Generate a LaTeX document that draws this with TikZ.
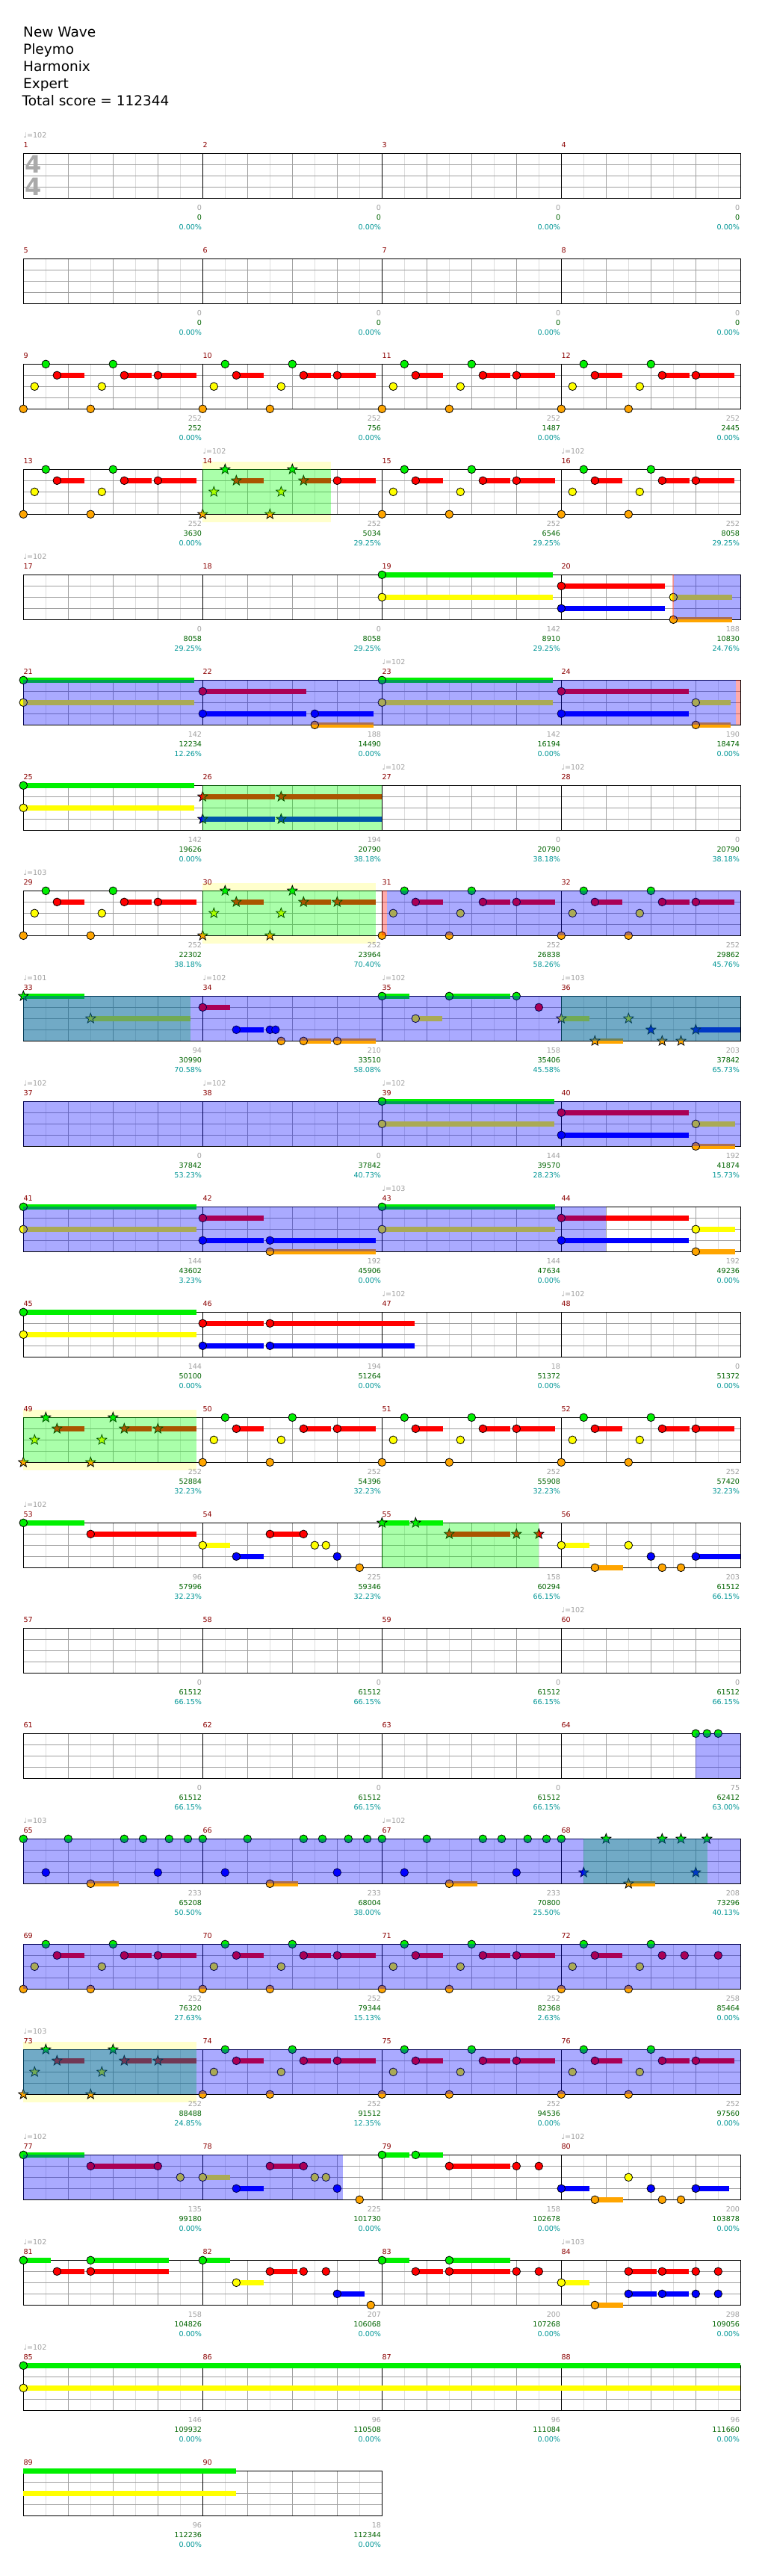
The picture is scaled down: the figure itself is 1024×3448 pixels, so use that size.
\documentclass[tikz,border=0pt]{standalone}
\usepackage{fontspec}
\setmainfont{DejaVu Sans}
\usepackage{tikz}

\definecolor{lane0}{RGB}{0,240,0}
\definecolor{lane1}{RGB}{255,0,0}
\definecolor{lane2}{RGB}{255,255,0}
\definecolor{lane3}{RGB}{0,0,255}
\definecolor{lane4}{RGB}{255,165,0}
\definecolor{numred}{RGB}{139,0,0}
\definecolor{ptsgray}{RGB}{160,160,160}
\definecolor{totgreen}{RGB}{0,100,0}
\definecolor{pctcyan}{RGB}{0,150,150}
\definecolor{sigray}{RGB}{170,170,170}
\definecolor{gridlight}{RGB}{221,221,221}
\definecolor{gridgray}{RGB}{160,160,160}
\definecolor{bandyellow}{RGB}{255,255,204}

\newcommand{\chartfont}{\fontsize{9.6}{11}\selectfont}
\newcommand{\headfont}{\fontsize{18.5}{23}\selectfont}

% one row of four (or two) bars
\newcommand{\staffrow}[2]{%
  \pgfmathsetmacro{\ty}{205.3+141*#1}%
  \pgfmathsetmacro{\rx}{31.3+240*#2}%
  \pgfmathtruncatemacro{\nh}{8*#2-1}%
  \pgfmathtruncatemacro{\nb}{4*#2-1}%
  \fill[white] (31.3,\ty) rectangle (\rx,\ty+60);
  \foreach \j in {1,...,\nh} \draw[gridhalf] (31.3+30*\j,\ty) -- ++(0,60);
  \foreach \j in {1,...,\nb} \draw[gridbeat] (31.3+60*\j,\ty) -- ++(0,60);
  \foreach \j in {1,2,3} \draw[gridlane] (31.3,\ty+15*\j) -- (\rx,\ty+15*\j);
  \foreach \j in {1,...,#2} \draw[barline] (31.3+240*\j,\ty) -- ++(0,60);
  \draw[staffbox] (31.3,\ty) rectangle (\rx,\ty+60);}

% bar, beat, lane
\newcommand{\gnote}[3]{%
  \pgfmathsetmacro{\nx}{31.3+240*mod(#1-1,4)+60*#2}%
  \pgfmathsetmacro{\ny}{205.3+141*floor((#1-1)/4)+15*#3}%
  \draw[notehead,fill=lane#3] (\nx,\ny) circle (5.3);}
\newcommand{\snote}[3]{%
  \pgfmathsetmacro{\nx}{31.3+240*mod(#1-1,4)+60*#2}%
  \pgfmathsetmacro{\ny}{205.3+141*floor((#1-1)/4)+15*#3}%
  \draw[notehead,fill=lane#3] (\nx,\ny) +(-90:7) -- +(-126:2.9) -- +(-162:7) -- +(-198:2.9) -- +(-234:7)
    -- +(-270:2.9) -- +(-306:7) -- +(-342:2.9) -- +(-18:7) -- +(-54:2.9) -- cycle;}
% bar, from beat, to beat, lane
\newcommand{\gsus}[4]{%
  \pgfmathsetmacro{\nx}{31.3+240*mod(#1-1,4)+60*#2}%
  \pgfmathsetmacro{\mx}{31.3+240*mod(#1-1,4)+60*#3}%
  \pgfmathsetmacro{\ny}{205.3+141*floor((#1-1)/4)+15*#4}%
  \draw[sustain,draw=lane#4] (\nx,\ny) -- (\mx,\ny);}

\newcommand{\riff}[1]{%
  \gsus{#1}{0.75}{1.36}{1}\gsus{#1}{2.25}{2.86}{1}\gsus{#1}{3}{3.86}{1}%
  \gnote{#1}{0.5}{0}\gnote{#1}{2}{0}%
  \gnote{#1}{0.75}{1}\gnote{#1}{2.25}{1}\gnote{#1}{3}{1}%
  \gnote{#1}{0.25}{2}\gnote{#1}{1.75}{2}%
  \gnote{#1}{0}{4}\gnote{#1}{1.5}{4}}
\newcommand{\starriff}[1]{%
  \gsus{#1}{0.75}{1.36}{1}\gsus{#1}{2.25}{2.86}{1}\gsus{#1}{3}{3.86}{1}%
  \snote{#1}{0.5}{0}\snote{#1}{2}{0}%
  \snote{#1}{0.75}{1}\snote{#1}{2.25}{1}\snote{#1}{3}{1}%
  \snote{#1}{0.25}{2}\snote{#1}{1.75}{2}%
  \snote{#1}{0}{4}\snote{#1}{1.5}{4}}
\newcommand{\gallop}[1]{%
  \gsus{#1}{1.5}{2.12}{4}%
  \gnote{#1}{0}{0}\gnote{#1}{1}{0}\gnote{#1}{2.25}{0}\gnote{#1}{2.67}{0}\gnote{#1}{3.25}{0}\gnote{#1}{3.67}{0}%
  \gnote{#1}{0.5}{3}\gnote{#1}{3}{3}\gnote{#1}{1.5}{4}}

\begin{document}
\begin{tikzpicture}[x=1pt,y=-1pt,
  notehead/.style={draw=black,line width=0.8pt},
  sustain/.style={line width=6.5pt},
  gridhalf/.style={gridlight,line width=1pt},
  gridbeat/.style={gridgray,line width=1pt},
  gridlane/.style={gridgray,line width=1pt},
  barline/.style={black,line width=1pt},
  staffbox/.style={black,line width=1.2pt},
  phraseband/.style={fill=bandyellow},
  odzone/.style={fill=green,fill opacity=0.333},
  spzone/.style={fill=blue,fill opacity=0.333},
  endzone/.style={fill=red,fill opacity=0.333},
  header/.style={anchor=base west,inner sep=0pt,font=\headfont},
  barnum/.style={anchor=base west,inner sep=0pt,text=numred,font=\chartfont},
  bpmmark/.style={anchor=base west,inner sep=0pt,text=ptsgray,font=\chartfont},
  ptsmark/.style={anchor=base east,inner sep=0pt,text=ptsgray,font=\chartfont},
  totmark/.style={anchor=base east,inner sep=0pt,text=totgreen,font=\chartfont},
  pctmark/.style={anchor=base east,inner sep=0pt,text=pctcyan,font=\chartfont}]
\useasboundingbox (0,0) rectangle (1024,3448);
\fill[white] (0,0) rectangle (1024,3448);

\node[header] (song) at (31,49.3) {New Wave};
\node[header] (artist) at (31,72.3) {Pleymo};
\node[header] (charter) at (31,95.3) {Harmonix};
\node[header] (level) at (31,118.3) {Expert};
\node[header] (total) at (29.5,141.3) {Total score = 112344};

% phrase bands
\fill[phraseband] (271.3,618.3) rectangle (442.7,699.3);
\fill[phraseband] (271.3,1182.3) rectangle (503,1263.3);
\fill[phraseband] (31.3,1887.3) rectangle (263,1968.3);
\fill[phraseband] (31.3,2733.3) rectangle (263,2814.3);

% staves
\foreach \k in {0,...,21} {\staffrow{\k}{4}}
\staffrow{22}{2}
\node[font=\bfseries\fontsize{32}{32}\selectfont,text=sigray,inner sep=0pt] (sigtop) at (44.5,220.3) {4};
\node[font=\bfseries\fontsize{32}{32}\selectfont,text=sigray,inner sep=0pt] (sigbot) at (44.5,250.3) {4};

% notes
\foreach \m in {9,10,11,12,13,15,16,29,31,32,50,51,52,69,70,71,74,75,76} {\riff{\m}}
\foreach \m in {30,49,73} {\starriff{\m}}
\foreach \m in {65,66,67} {\gallop{\m}}

\gsus{14}{0.75}{1.36}{1}\gsus{14}{2.25}{2.86}{1}\gsus{14}{3}{3.86}{1}
\snote{14}{0.5}{0}\snote{14}{2}{0}\snote{14}{0.75}{1}\snote{14}{2.25}{1}\gnote{14}{3}{1}
\snote{14}{0.25}{2}\snote{14}{1.75}{2}\snote{14}{0}{4}\snote{14}{1.5}{4}

\gsus{19}{0}{3.81}{0}\gsus{19}{0}{3.81}{2}\gnote{19}{0}{0}\gnote{19}{0}{2}
\gsus{20}{0}{2.31}{1}\gsus{20}{0}{2.31}{3}\gsus{20}{2.5}{3.81}{2}\gsus{20}{2.5}{3.81}{4}
\gnote{20}{0}{1}\gnote{20}{0}{3}\gnote{20}{2.5}{2}\gnote{20}{2.5}{4}
\gsus{21}{0}{3.81}{0}\gsus{21}{0}{3.81}{2}\gnote{21}{0}{0}\gnote{21}{0}{2}
\gsus{22}{0}{2.31}{1}\gsus{22}{0}{2.31}{3}\gsus{22}{2.5}{3.81}{3}\gsus{22}{2.5}{3.81}{4}
\gnote{22}{0}{1}\gnote{22}{0}{3}\gnote{22}{2.5}{3}\gnote{22}{2.5}{4}
\gsus{23}{0}{3.81}{0}\gsus{23}{0}{3.81}{2}\gnote{23}{0}{0}\gnote{23}{0}{2}
\gsus{24}{0}{2.85}{1}\gsus{24}{0}{2.85}{3}\gsus{24}{3}{3.78}{2}\gsus{24}{3}{3.78}{4}
\gnote{24}{0}{1}\gnote{24}{0}{3}\gnote{24}{3}{2}\gnote{24}{3}{4}
\gsus{25}{0}{3.81}{0}\gsus{25}{0}{3.81}{2}\gnote{25}{0}{0}\gnote{25}{0}{2}
\gsus{26}{0}{1.61}{1}\gsus{26}{1.75}{4}{1}\gsus{26}{0}{1.61}{3}\gsus{26}{1.75}{4}{3}
\snote{26}{0}{1}\snote{26}{1.75}{1}\snote{26}{0}{3}\snote{26}{1.75}{3}

\gsus{33}{0}{1.36}{0}\gsus{33}{1.5}{3.73}{2}\snote{33}{0}{0}\snote{33}{1.5}{2}
\gsus{34}{0}{0.61}{1}\gsus{34}{0.75}{1.36}{3}\gsus{34}{2.25}{2.86}{4}\gsus{34}{3}{3.86}{4}
\gnote{34}{0}{1}\gnote{34}{0.75}{3}\gnote{34}{1.5}{3}\gnote{34}{1.625}{3}\gnote{34}{1.75}{4}\gnote{34}{2.25}{4}\gnote{34}{3}{4}
\gsus{35}{0}{0.61}{0}\gsus{35}{1.5}{2.86}{0}\gsus{35}{0.75}{1.35}{2}
\gnote{35}{0}{0}\gnote{35}{1.5}{0}\gnote{35}{3}{0}\gnote{35}{3.5}{1}\gnote{35}{0.75}{2}
\gsus{36}{0}{0.62}{2}\gsus{36}{3}{4}{3}\gsus{36}{0.75}{1.37}{4}
\snote{36}{0}{2}\snote{36}{1.5}{2}\snote{36}{2}{3}\snote{36}{3}{3}\snote{36}{0.75}{4}\snote{36}{2.25}{4}\snote{36}{2.67}{4}

\gsus{39}{0}{3.85}{0}\gsus{39}{0}{3.85}{2}\gnote{39}{0}{0}\gnote{39}{0}{2}
\gsus{40}{0}{2.85}{1}\gsus{40}{0}{2.85}{3}\gsus{40}{3}{3.87}{2}\gsus{40}{3}{3.87}{4}
\gnote{40}{0}{1}\gnote{40}{0}{3}\gnote{40}{3}{2}\gnote{40}{3}{4}
\gsus{41}{0}{3.86}{0}\gsus{41}{0}{3.86}{2}\gnote{41}{0}{0}\gnote{41}{0}{2}
\gsus{42}{0}{1.36}{1}\gsus{42}{0}{1.36}{3}\gsus{42}{1.5}{3.86}{3}\gsus{42}{1.5}{3.86}{4}
\gnote{42}{0}{1}\gnote{42}{0}{3}\gnote{42}{1.5}{3}\gnote{42}{1.5}{4}
\gsus{43}{0}{3.86}{0}\gsus{43}{0}{3.86}{2}\gnote{43}{0}{0}\gnote{43}{0}{2}
\gsus{44}{0}{2.85}{1}\gsus{44}{0}{2.85}{3}\gsus{44}{3}{3.87}{2}\gsus{44}{3}{3.87}{4}
\gnote{44}{0}{1}\gnote{44}{0}{3}\gnote{44}{3}{2}\gnote{44}{3}{4}
\gsus{45}{0}{3.86}{0}\gsus{45}{0}{3.86}{2}\gnote{45}{0}{0}\gnote{45}{0}{2}
\gsus{46}{0}{1.36}{1}\gsus{46}{1.5}{4.73}{1}\gsus{46}{0}{1.36}{3}\gsus{46}{1.5}{4.73}{3}
\gnote{46}{0}{1}\gnote{46}{1.5}{1}\gnote{46}{0}{3}\gnote{46}{1.5}{3}

\gsus{53}{0}{1.36}{0}\gsus{53}{1.5}{3.86}{1}\gnote{53}{0}{0}\gnote{53}{1.5}{1}
\gsus{54}{0}{0.61}{2}\gsus{54}{0.75}{1.36}{3}\gsus{54}{1.5}{2.25}{1}
\gnote{54}{0}{2}\gnote{54}{0.75}{3}\gnote{54}{1.5}{1}\gnote{54}{2.25}{1}\gnote{54}{2.5}{2}\gnote{54}{2.75}{2}\gnote{54}{3}{3}\gnote{54}{3.5}{4}
\gsus{55}{0}{0.61}{0}\gsus{55}{0.75}{1.36}{0}\gsus{55}{1.5}{2.86}{1}
\snote{55}{0}{0}\snote{55}{0.75}{0}\snote{55}{1.5}{1}\snote{55}{3}{1}\snote{55}{3.5}{1}
\gsus{56}{0}{0.62}{2}\gsus{56}{3}{4}{3}\gsus{56}{0.75}{1.37}{4}
\gnote{56}{0}{2}\gnote{56}{1.5}{2}\gnote{56}{2}{3}\gnote{56}{3}{3}\gnote{56}{0.75}{4}\gnote{56}{2.25}{4}\gnote{56}{2.67}{4}

\gnote{64}{3}{0}\gnote{64}{3.25}{0}\gnote{64}{3.5}{0}
\gsus{68}{1.5}{2.1}{4}\gnote{68}{0}{0}\snote{68}{1}{0}\snote{68}{2.25}{0}\snote{68}{2.67}{0}\snote{68}{3.25}{0}
\snote{68}{0.5}{3}\snote{68}{3}{3}\snote{68}{1.5}{4}
\gsus{72}{0.75}{1.36}{1}\gnote{72}{0.5}{0}\gnote{72}{2}{0}
\gnote{72}{0.75}{1}\gnote{72}{2.25}{1}\gnote{72}{2.75}{1}\gnote{72}{3.5}{1}
\gnote{72}{0.25}{2}\gnote{72}{1.75}{2}\gnote{72}{0}{4}\gnote{72}{1.5}{4}

\gsus{77}{0}{1.36}{0}\gsus{77}{1.5}{3}{1}\gnote{77}{0}{0}\gnote{77}{1.5}{1}\gnote{77}{3}{1}\gnote{77}{3.5}{2}
\gsus{78}{0}{0.61}{2}\gsus{78}{0.75}{1.36}{3}\gsus{78}{1.5}{2.25}{1}
\gnote{78}{0}{2}\gnote{78}{0.75}{3}\gnote{78}{1.5}{1}\gnote{78}{2.25}{1}\gnote{78}{2.5}{2}\gnote{78}{2.75}{2}\gnote{78}{3}{3}\gnote{78}{3.5}{4}
\gsus{79}{0}{0.61}{0}\gsus{79}{0.75}{1.36}{0}\gsus{79}{1.5}{2.86}{1}
\gnote{79}{0}{0}\gnote{79}{0.75}{0}\gnote{79}{1.5}{1}\gnote{79}{3}{1}\gnote{79}{3.5}{1}
\gsus{80}{0}{0.62}{3}\gsus{80}{0.75}{1.37}{4}\gsus{80}{3}{3.75}{3}
\gnote{80}{0}{3}\gnote{80}{0.75}{4}\gnote{80}{1.5}{2}\gnote{80}{2}{3}\gnote{80}{2.25}{4}\gnote{80}{2.67}{4}\gnote{80}{3}{3}

\gsus{81}{0}{0.61}{0}\gsus{81}{1.5}{3.25}{0}\gsus{81}{0.75}{1.36}{1}\gsus{81}{1.5}{3.25}{1}
\gnote{81}{0}{0}\gnote{81}{1.5}{0}\gnote{81}{0.75}{1}\gnote{81}{1.5}{1}
\gsus{82}{0}{0.61}{0}\gsus{82}{0.75}{1.36}{2}\gsus{82}{1.5}{2.11}{1}\gsus{82}{3}{3.61}{3}
\gnote{82}{0}{0}\gnote{82}{0.75}{2}\gnote{82}{1.5}{1}\gnote{82}{2.25}{1}\gnote{82}{2.75}{1}\gnote{82}{3}{3}\gnote{82}{3.75}{4}
\gsus{83}{0}{0.61}{0}\gsus{83}{1.5}{2.86}{0}\gsus{83}{0.75}{1.36}{1}\gsus{83}{1.5}{2.86}{1}
\gnote{83}{0}{0}\gnote{83}{1.5}{0}\gnote{83}{0.75}{1}\gnote{83}{1.5}{1}\gnote{83}{3}{1}\gnote{83}{3.5}{1}
\gsus{84}{0}{0.62}{2}\gsus{84}{0.75}{1.37}{4}\gsus{84}{1.5}{2.12}{1}\gsus{84}{2.25}{2.85}{1}\gsus{84}{1.5}{2.12}{3}\gsus{84}{2.25}{2.85}{3}
\gnote{84}{0}{2}\gnote{84}{0.75}{4}\gnote{84}{1.5}{1}\gnote{84}{2.25}{1}\gnote{84}{3}{1}\gnote{84}{3.5}{1}
\gnote{84}{1.5}{3}\gnote{84}{2.25}{3}\gnote{84}{3}{3}\gnote{84}{3.5}{3}
\gsus{85}{0}{16}{0}\gsus{85}{0}{16}{2}\gnote{85}{0}{0}\gnote{85}{0}{2}
\gsus{89}{0}{4.75}{0}\gsus{89}{0}{4.75}{2}

% overdrive phrases
\fill[odzone] (271.3,628.3) rectangle (442.7,688.3);
\fill[odzone] (271.3,1051.3) rectangle (511.3,1111.3);
\fill[odzone] (271.3,1192.3) rectangle (503,1252.3);
\fill[odzone] (31.3,1333.3) rectangle (255.4,1393.3);
\fill[odzone] (751.3,1333.3) rectangle (991.3,1393.3);
\fill[odzone] (31.3,1897.3) rectangle (263,1957.3);
\fill[odzone] (511.3,2038.3) rectangle (721.2,2098.3);
\fill[odzone] (781.3,2461.3) rectangle (946.6,2521.3);
\fill[odzone] (31.3,2743.3) rectangle (263,2803.3);
% activations
\fill[spzone] (902,769.3) rectangle (991.3,829.3);
\fill[spzone] (31.3,910.3) rectangle (985,970.3);
\fill[spzone] (517.5,1192.3) rectangle (991.3,1252.3);
\fill[spzone] (31.3,1333.3) rectangle (991.3,1393.3);
\fill[spzone] (31.3,1474.3) rectangle (991.3,1534.3);
\fill[spzone] (31.3,1615.3) rectangle (811.3,1675.3);
\fill[spzone] (931.3,2320.3) rectangle (991.3,2380.3);
\fill[spzone] (31.3,2461.3) rectangle (991.3,2521.3);
\fill[spzone] (31.3,2602.3) rectangle (991.3,2662.3);
\fill[spzone] (31.3,2743.3) rectangle (991.3,2803.3);
\fill[spzone] (31.3,2884.3) rectangle (459.2,2944.3);
\fill[endzone] (899.5,769.3) rectangle (902,829.3);
\fill[endzone] (985,910.3) rectangle (991.3,970.3);
\fill[endzone] (511.3,1192.3) rectangle (517.5,1252.3);

% bar numbers
\foreach \m in {1,...,90} {
  \pgfmathsetmacro{\bx}{31.3+240*mod(\m-1,4)}
  \pgfmathsetmacro{\ty}{205.3+141*floor((\m-1)/4)}
  \node[barnum] (num\m) at (\bx,\ty-7.5) {\m};
}
% tempo changes
\foreach \m/\bpm in {1/102,14/102,16/102,17/102,23/102,27/102,28/102,29/103,33/101,34/102,35/102,36/103,
    37/102,38/102,39/102,43/103,47/102,48/102,53/102,60/102,65/103,67/102,73/103,77/102,80/102,81/102,84/103,85/102} {
  \pgfmathsetmacro{\bx}{31.3+240*mod(\m-1,4)}
  \pgfmathsetmacro{\ty}{205.3+141*floor((\m-1)/4)}
  \node[bpmmark] (bpm\m) at (\bx,\ty-20.5) {♩=\bpm};
}
% scores
\foreach \m/\pts/\tot/\pct in {1/0/0/0.00,2/0/0/0.00,3/0/0/0.00,4/0/0/0.00,5/0/0/0.00,6/0/0/0.00,7/0/0/0.00,8/0/0/0.00,
    9/252/252/0.00,10/252/756/0.00,11/252/1487/0.00,12/252/2445/0.00,
    13/252/3630/0.00,14/252/5034/29.25,15/252/6546/29.25,16/252/8058/29.25,
    17/0/8058/29.25,18/0/8058/29.25,19/142/8910/29.25,20/188/10830/24.76,
    21/142/12234/12.26,22/188/14490/0.00,23/142/16194/0.00,24/190/18474/0.00,
    25/142/19626/0.00,26/194/20790/38.18,27/0/20790/38.18,28/0/20790/38.18,
    29/252/22302/38.18,30/252/23964/70.40,31/252/26838/58.26,32/252/29862/45.76,
    33/94/30990/70.58,34/210/33510/58.08,35/158/35406/45.58,36/203/37842/65.73,
    37/0/37842/53.23,38/0/37842/40.73,39/144/39570/28.23,40/192/41874/15.73,
    41/144/43602/3.23,42/192/45906/0.00,43/144/47634/0.00,44/192/49236/0.00,
    45/144/50100/0.00,46/194/51264/0.00,47/18/51372/0.00,48/0/51372/0.00,
    49/252/52884/32.23,50/252/54396/32.23,51/252/55908/32.23,52/252/57420/32.23,
    53/96/57996/32.23,54/225/59346/32.23,55/158/60294/66.15,56/203/61512/66.15,
    57/0/61512/66.15,58/0/61512/66.15,59/0/61512/66.15,60/0/61512/66.15,
    61/0/61512/66.15,62/0/61512/66.15,63/0/61512/66.15,64/75/62412/63.00,
    65/233/65208/50.50,66/233/68004/38.00,67/233/70800/25.50,68/208/73296/40.13,
    69/252/76320/27.63,70/252/79344/15.13,71/252/82368/2.63,72/258/85464/0.00,
    73/252/88488/24.85,74/252/91512/12.35,75/252/94536/0.00,76/252/97560/0.00,
    77/135/99180/0.00,78/225/101730/0.00,79/158/102678/0.00,80/200/103878/0.00,
    81/158/104826/0.00,82/207/106068/0.00,83/200/107268/0.00,84/298/109056/0.00,
    85/146/109932/0.00,86/96/110508/0.00,87/96/111084/0.00,88/96/111660/0.00,
    89/96/112236/0.00,90/18/112344/0.00} {
  \pgfmathsetmacro{\ex}{31.3+240*(mod(\m-1,4)+1)-1}
  \pgfmathsetmacro{\ty}{205.3+141*floor((\m-1)/4)}
  \node[ptsmark] (pts\m) at (\ex,\ty+76.5) {\pts};
  \node[totmark] (tot\m) at (\ex,\ty+89.5) {\tot};
  \node[pctmark] (pct\m) at (\ex,\ty+102.5) {\pct\%};
}
\end{tikzpicture}
\end{document}
